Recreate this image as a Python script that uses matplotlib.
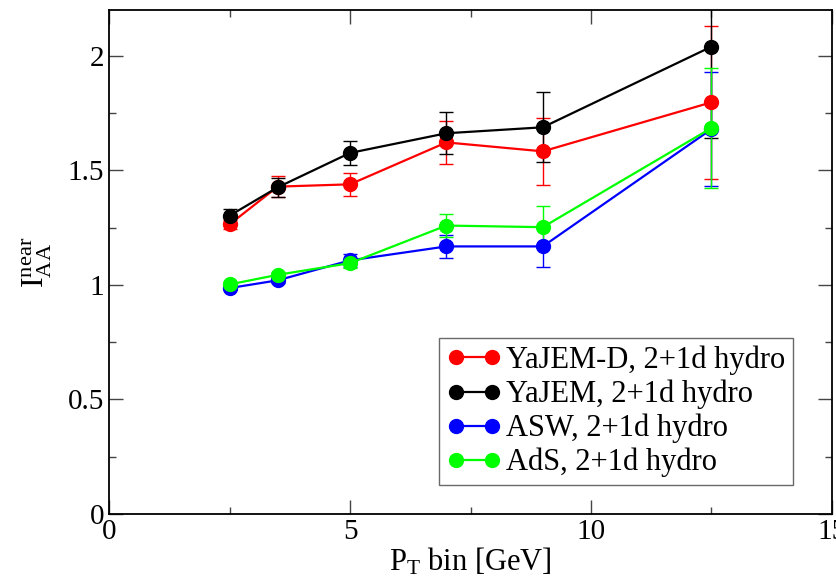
import matplotlib
matplotlib.use("Agg")
import matplotlib.pyplot as plt
from matplotlib.lines import Line2D
from matplotlib.ticker import MultipleLocator

plt.rcParams['font.family'] = ['Liberation Serif', 'DejaVu Serif']
plt.rcParams['mathtext.fontset'] = 'custom'
plt.rcParams['mathtext.rm'] = 'Liberation Serif'
plt.rcParams['mathtext.it'] = 'Liberation Serif:italic'

# pT bin centres
pt = [2.5, 3.5, 5, 7, 9, 12.5]

# I_AA near side values and errors
yajem_d = [1.264, 1.429, 1.439, 1.622, 1.583, 1.797]
yajem_d_err = [0.02, 0.046, 0.049, 0.093, 0.146, 0.333]

yajem = [1.302, 1.426, 1.576, 1.662, 1.688, 2.040]
yajem_err = [0.03, 0.042, 0.051, 0.092, 0.153, 0.40]

asw = [0.986, 1.020, 1.107, 1.168, 1.168, 1.680]
asw_err = [0.01, 0.012, 0.028, 0.051, 0.09, 0.25]

ads = [1.002, 1.044, 1.095, 1.259, 1.252, 1.685]
ads_err = [0.01, 0.012, 0.02, 0.052, 0.091, 0.26]

labels = ["YaJEM-D, 2+1d hydro", "YaJEM, 2+1d hydro",
          "ASW, 2+1d hydro", "AdS, 2+1d hydro"]
colors = ["#ff0000", "#000000", "#0000ff", "#00ff00"]

fig = plt.figure(figsize=(8.36, 5.85), dpi=100)
ax = fig.add_axes([0.1304, 0.1214, 0.8648, 0.8615])

series = [(yajem_d, yajem_d_err), (yajem, yajem_err), (asw, asw_err), (ads, ads_err)]
handles = []
for (y, e), lab, c in zip(series, labels, colors):
    ax.errorbar(pt, y, yerr=e, color=c, marker='o', markersize=10, linewidth=1.6,
                elinewidth=1.0, capsize=5, capthick=1.0)
    # legend entry without the error bar
    handles.append(Line2D([], [], color=c, marker='o', markersize=10,
                          linewidth=1.6, label=lab))

ax.set_xlim(0, 15)
ax.set_ylim(0, 2.2)
ax.set_xticks([0, 5, 10, 15])
ax.set_xticklabels(['0', '5', '10', '15'])
ax.set_yticks([0, 0.5, 1, 1.5, 2])
ax.set_yticklabels(['0', '0.5', '1', '1.5', '2'])
ax.xaxis.set_minor_locator(MultipleLocator(2.5))
ax.yaxis.set_minor_locator(MultipleLocator(0.25))
ax.tick_params(which='both', direction='in', top=True, right=True, labelsize=21)
ax.tick_params(which='major', length=10, width=1.0, colors='#444444', labelcolor='black')
ax.tick_params(which='minor', length=5, width=1.0, colors='#444444')
for s in ax.spines.values():
    s.set_linewidth(1.3)

ax.set_xlabel(r'P$_\mathrm{T}$ bin [GeV]', fontsize=22, labelpad=1)
ax.set_ylabel(r'I$_\mathrm{AA}^\mathrm{near}$', fontsize=23, labelpad=10)

leg = ax.legend(handles=handles, loc='lower right', bbox_to_anchor=(0.946, 0.0575),
                numpoints=2, fontsize=22, frameon=True, fancybox=False,
                edgecolor='#444444', handlelength=1.8, handletextpad=0.15,
                borderpad=0.25, labelspacing=0.15, borderaxespad=0)
leg.get_frame().set_linewidth(1.0)

fig.savefig('out.png', dpi=100)
